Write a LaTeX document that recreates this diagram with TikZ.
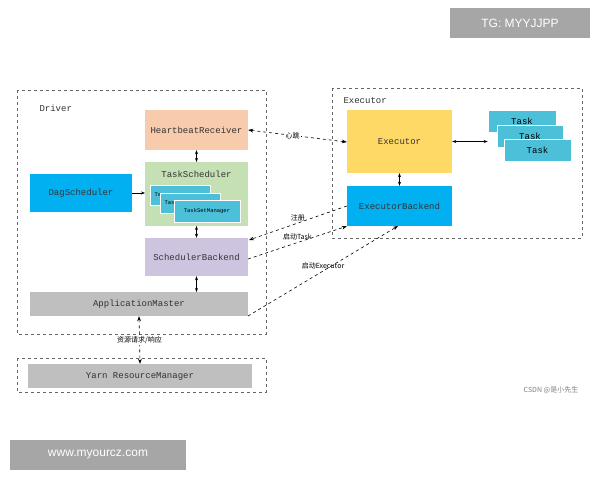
\documentclass[tikz,border=0pt]{standalone}
\usepackage{fontspec}
\setmainfont{Liberation Serif}
\newfontfamily\cjk{Noto Sans CJK SC}
\newfontfamily\mono{Liberation Mono}
\newfontfamily\sans{Liberation Sans}
\usetikzlibrary{arrows.meta}
\definecolor{peach}{HTML}{F8CBAD}
\definecolor{grn}{HTML}{C5E0B4}
\definecolor{sky}{HTML}{00B0F0}
\definecolor{lav}{HTML}{CDC5E0}
\definecolor{gr}{HTML}{BFBFBF}
\definecolor{yel}{HTML}{FFD966}
\definecolor{card}{HTML}{4BC0D8}
\tikzset{
  mf/.style={font=\mono\fontsize{9}{10}\selectfont,text=black!80},
  frame/.style={draw=black!60,dashed,line width=0.6pt},
  cardb/.style={draw=white,fill=card,line width=0.6pt,inner sep=0,font=\mono\fontsize{9}{10}\selectfont},
  sarr/.style={{Stealth[length=4pt]}-{Stealth[length=4pt]},line width=0.8pt},
  darr/.style={dashed,line width=0.6pt,-{Stealth[length=5pt]}},
  lab/.style={font=\cjk\fontsize{7}{8}\selectfont,fill=white,inner sep=1pt}
}
\begin{document}
\begin{tikzpicture}[x=1pt,y=-1pt]
\useasboundingbox (0,0) rectangle (600,480);
\fill[white] (0,0) rectangle (600,480);
% banners
\node[fill=gray!70,minimum width=140,minimum height=30,inner sep=0,text=white,font=\sans\fontsize{12}{14}\selectfont] (tg) at (520,23) {TG: MYYJJPP};
\node[fill=gray!70,minimum width=176,minimum height=30,inner sep=0,text=white,font=\sans\fontsize{12}{14}\selectfont] (www) at (98,455) {www.myourcz.com};
\node[text=gray,font=\cjk\fontsize{7}{8}\selectfont] (csdn) at (551,390) {CSDN @是小先生};
% frames
\draw[frame] (17,90) rectangle (266,334);
\node[mf,anchor=west] (dl) at (36,108) {Driver};
\draw[frame] (332,88) rectangle (582,238);
\node[mf,anchor=west] (el) at (340,101) {Executor};
\draw[frame] (17,358) rectangle (266,392);
% nodes
\node[fill=peach,minimum width=103,minimum height=40,inner sep=0,mf] (hb) at (196.5,130) {HeartbeatReceiver};
\fill[grn] (145,162) rectangle (248,226);
\node[mf] (tsl) at (196.5,174) {TaskScheduler};
\node[cardb,minimum width=60,minimum height=20] (c1) at (180,195) {};
\node[anchor=west,font=\mono\fontsize{5.5}{6}\selectfont] at (151,195) {Tas};
\node[cardb,minimum width=60,minimum height=20] (c2) at (190,203) {};
\node[anchor=west,font=\mono\fontsize{5.5}{6}\selectfont] at (161,203) {Tas};
\node[cardb,minimum width=66,minimum height=22,font=\mono\fontsize{5.5}{6}\selectfont] (c3) at (207,211) {TaskSetManager};
\node[fill=sky,minimum width=102,minimum height=38,inner sep=0,mf] (dag) at (81,193) {DagScheduler};
\node[fill=lav,minimum width=103,minimum height=38,inner sep=0,mf] (sb) at (196.5,257) {SchedulerBackend};
\node[fill=gr,minimum width=218,minimum height=24,inner sep=0,mf] (am) at (139,304) {ApplicationMaster};
\node[fill=gr,minimum width=224,minimum height=24,inner sep=0,mf] (yarn) at (140,376) {Yarn ResourceManager};
\node[fill=yel,minimum width=105,minimum height=63,inner sep=0,mf] (ex) at (399.5,141.5) {Executor};
\node[fill=sky,minimum width=105,minimum height=40,inner sep=0,mf] (eb) at (399.5,206) {ExecutorBackend};
\node[cardb,minimum width=68,minimum height=22] (t1) at (522,121) {Task};
\node[cardb,minimum width=66,minimum height=22] (t2) at (530,136) {Task};
\node[cardb,minimum width=67,minimum height=22] (t3) at (537.5,150) {Task};
% connectors
\draw[sarr] (hb.south) -- (196.5,162);
\draw[sarr] (196.5,226) -- (sb.north);
\draw[sarr] (sb.south) -- (196.5,292);
\draw[line width=0.8pt,-{Stealth[length=4pt]}] (dag.east) -- (145,193);
\draw[sarr] (ex.south) -- (eb.north);
\draw[sarr] (ex.east) -- (t1.west |- ex.east);
\draw[dashed,line width=0.6pt,{Stealth[length=5pt]}-{Stealth[length=5pt]}] (hb.east) -- node[lab,pos=0.45] {心跳} (ex.west |- 0,142);
\draw[dashed,line width=0.6pt,{Stealth[length=5pt]}-{Stealth[length=5pt]}] (am.south) -- node[lab] {资源请求/响应} (yarn.north);
\draw[darr] (eb.west) -- node[lab,pos=0.5,above=1pt,fill=none] {注册} (249,240);
\draw[darr] (248,259) -- node[lab,pos=0.5,above=1pt,fill=none] {启动Task} (eb.south west);
\draw[darr] (248,316) -- node[lab,pos=0.5,above=1pt,fill=none] {启动Executor} (398,226);
\end{tikzpicture}
\end{document}
